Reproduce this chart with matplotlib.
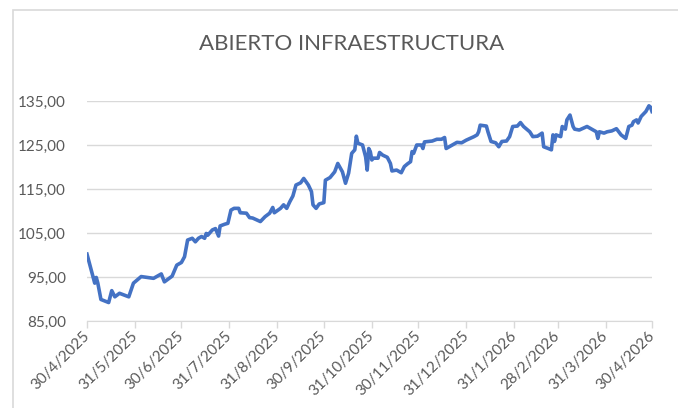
import pandas as pd
import matplotlib
matplotlib.use("Agg")
import matplotlib.pyplot as plt
from matplotlib.patches import Rectangle
from matplotlib.transforms import ScaledTranslation

# Values
dates = [
    "2025-04-30", "2025-05-05", "2025-05-06", "2025-05-07", "2025-05-09", "2025-05-14",
    "2025-05-16", "2025-05-18", "2025-05-21", "2025-05-27", "2025-05-30", "2025-06-04",
    "2025-06-12", "2025-06-17", "2025-06-19", "2025-06-24", "2025-06-27", "2025-06-30",
    "2025-07-02", "2025-07-04", "2025-07-07", "2025-07-09", "2025-07-11", "2025-07-13",
    "2025-07-15", "2025-07-16", "2025-07-17", "2025-07-20", "2025-07-22", "2025-07-24",
    "2025-07-25", "2025-07-28", "2025-07-30", "2025-08-01", "2025-08-03", "2025-08-06",
    "2025-08-07", "2025-08-11", "2025-08-13", "2025-08-15", "2025-08-20", "2025-08-23",
    "2025-08-26", "2025-08-28", "2025-08-29", "2025-09-02", "2025-09-04", "2025-09-06",
    "2025-09-08", "2025-09-10", "2025-09-12", "2025-09-15", "2025-09-17", "2025-09-20",
    "2025-09-22", "2025-09-23", "2025-09-25", "2025-09-27", "2025-09-30", "2025-10-01",
    "2025-10-04", "2025-10-07", "2025-10-09", "2025-10-12", "2025-10-14", "2025-10-16",
    "2025-10-18", "2025-10-20", "2025-10-21", "2025-10-22", "2025-10-25", "2025-10-27",
    "2025-10-28", "2025-10-29", "2025-10-30", "2025-10-31", "2025-11-01", "2025-11-04",
    "2025-11-05", "2025-11-07", "2025-11-10", "2025-11-12", "2025-11-13", "2025-11-16",
    "2025-11-19", "2025-11-21", "2025-11-23", "2025-11-25", "2025-11-26", "2025-11-27",
    "2025-11-29", "2025-12-02", "2025-12-03", "2025-12-04", "2025-12-09", "2025-12-12",
    "2025-12-15", "2025-12-17", "2025-12-18", "2025-12-22", "2025-12-25", "2025-12-28",
    "2025-12-31", "2026-01-05", "2026-01-07", "2026-01-08", "2026-01-09", "2026-01-13",
    "2026-01-14", "2026-01-16", "2026-01-19", "2026-01-21", "2026-01-23", "2026-01-26",
    "2026-01-28", "2026-01-30", "2026-02-02", "2026-02-04", "2026-02-06", "2026-02-08",
    "2026-02-10", "2026-02-12", "2026-02-15", "2026-02-18", "2026-02-19", "2026-02-22",
    "2026-02-24", "2026-02-25", "2026-02-26", "2026-02-27", "2026-03-02", "2026-03-03",
    "2026-03-05", "2026-03-06", "2026-03-08", "2026-03-10", "2026-03-11", "2026-03-14",
    "2026-03-19", "2026-03-22", "2026-03-25", "2026-03-26", "2026-03-27", "2026-03-30",
    "2026-04-01", "2026-04-04", "2026-04-07", "2026-04-10", "2026-04-13", "2026-04-15",
    "2026-04-17", "2026-04-18", "2026-04-20", "2026-04-21", "2026-04-23", "2026-04-26",
    "2026-04-28", "2026-04-29", "2026-04-30",
]
values = [
    100.2, 93.6, 94.9, 93.6, 89.9, 89.2,
    91.9, 90.5, 91.3, 90.5, 93.6, 95.1,
    94.7, 95.7, 93.9, 95.2, 97.7, 98.3,
    99.6, 103.4, 103.8, 103.0, 103.8, 104.2,
    103.8, 104.9, 104.5, 105.7, 106.0, 104.3,
    106.6, 107.0, 107.2, 110.2, 110.6, 110.6,
    109.6, 109.5, 108.5, 108.4, 107.6, 108.7,
    109.5, 110.8, 109.6, 110.6, 111.4, 110.6,
    112.1, 113.4, 115.9, 116.4, 117.4, 115.9,
    114.4, 111.4, 110.6, 111.6, 111.9, 117.0,
    117.6, 118.9, 120.8, 118.9, 116.3, 118.6,
    123.1, 123.9, 127.0, 125.4, 125.0, 122.3,
    119.3, 124.2, 123.5, 121.6, 122.0, 122.0,
    123.3, 122.7, 122.2, 120.8, 119.1, 119.3,
    118.7, 120.1, 120.7, 121.2, 123.5, 123.1,
    125.0, 125.0, 124.2, 125.7, 125.9, 126.3,
    126.3, 126.7, 124.2, 125.0, 125.6, 125.5,
    126.1, 126.9, 127.3, 128.0, 129.5, 129.3,
    128.0, 125.8, 125.5, 124.6, 125.8, 125.9,
    126.9, 129.2, 129.3, 130.1, 129.2, 128.6,
    128.0, 126.9, 127.0, 127.7, 124.6, 124.2,
    123.9, 127.3, 125.8, 127.3, 126.9, 129.2,
    128.6, 130.7, 131.8, 129.2, 128.6, 128.4,
    129.2, 128.6, 128.0, 126.5, 128.0, 127.7,
    128.0, 128.2, 128.7, 127.3, 126.5, 129.2,
    129.5, 130.3, 130.7, 130.0, 131.5, 132.6,
    133.9, 133.6, 132.6,
]
tick_dates = [
    "2025-04-30", "2025-05-31", "2025-06-30", "2025-07-31", "2025-08-31",
    "2025-09-30", "2025-10-31", "2025-11-30", "2025-12-31", "2026-01-31",
    "2026-02-28", "2026-03-31", "2026-04-30",
]
tick_labels = [
    "30/4/2025", "31/5/2025", "30/6/2025", "31/7/2025", "31/8/2025",
    "30/9/2025", "31/10/2025", "30/11/2025", "31/12/2025", "31/1/2026",
    "28/2/2026", "31/3/2026", "30/4/2026",
]
y_ticks = [85, 95, 105, 115, 125, 135]
title = "ABIERTO INFRAESTRUCTURA"

plt.rcParams["font.family"] = ["Lato", "DejaVu Sans"]
text_color = "#595959"
grid_color = "#D9D9D9"

fig = plt.figure(figsize=(6.78, 4.08), dpi=100)
ax = fig.add_axes([0.1283, 0.2132, 0.8334, 0.5393])

x = pd.to_datetime(dates)
ax.plot(x, values, color="#4472C4", lw=2.6, solid_joinstyle="round")

ax.set_ylim(85, 135)
ax.set_yticks(y_ticks)
ax.set_yticklabels([f"{v:.2f}".replace(".", ",") for v in y_ticks],
                   color=text_color, fontsize=11)
ax.yaxis.grid(True, color=grid_color, lw=1)
ax.set_axisbelow(True)

xt = pd.to_datetime(tick_dates)
ax.set_xlim(xt[0], xt[-1])
ax.set_xticks(xt)
ax.set_xticklabels(tick_labels, rotation=45, ha="right", va="center",
                   rotation_mode="anchor", color=text_color, fontsize=11)
# shift the rotated labels left, as in the reference
offset = ScaledTranslation(-11 / 72, -4 / 72, fig.dpi_scale_trans)
for lab in ax.get_xticklabels():
    lab.set_transform(lab.get_transform() + offset)

ax.tick_params(axis="y", length=0, pad=15)
ax.tick_params(axis="x", length=5, color=grid_color, width=1, pad=4)
for side in ["top", "right", "left"]:
    ax.spines[side].set_visible(False)
ax.spines["bottom"].set_color(grid_color)

fig.text(0.519, 0.892, title, ha="center", va="center",
         color=text_color, fontsize=16)

# chart border, cut off by the image on the right and bottom
fig.patches.append(Rectangle((13 / 678, -0.1), 1.1, 0.1 + 1 - 10 / 408,
                             transform=fig.transFigure, fill=False,
                             edgecolor=grid_color, lw=1.2))

fig.savefig("out.png", dpi=100)
